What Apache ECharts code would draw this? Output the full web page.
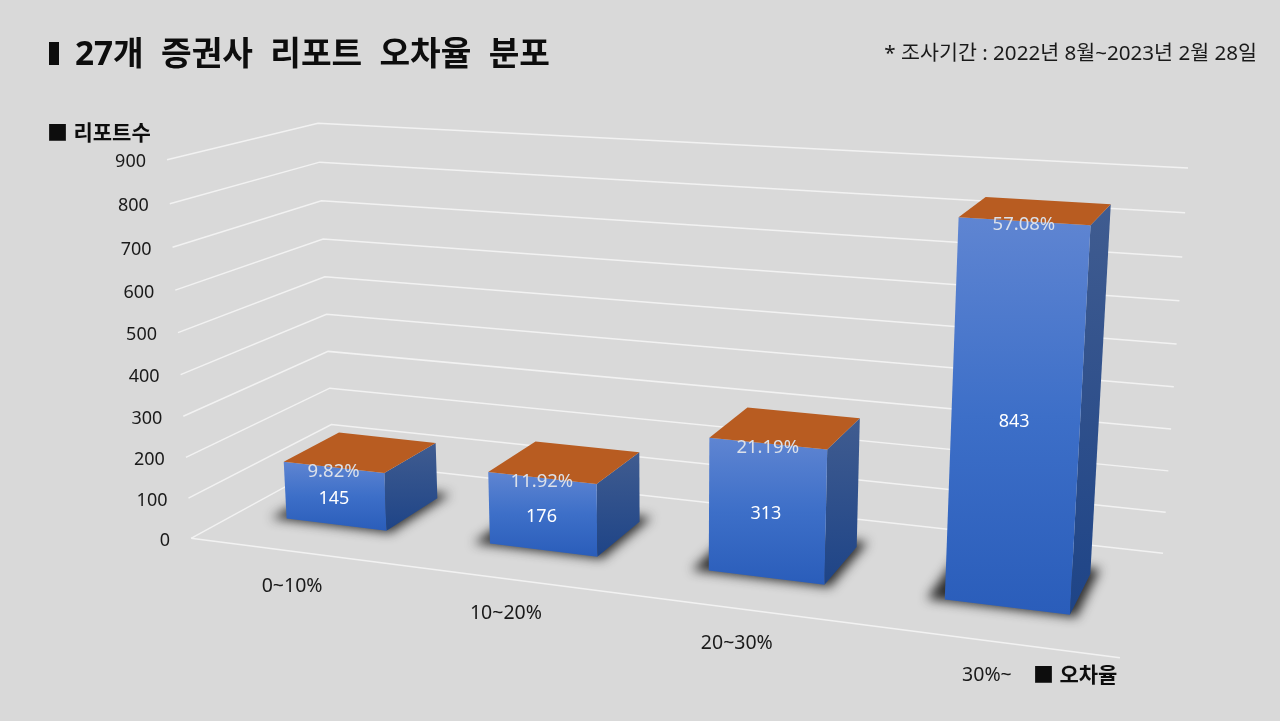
<!DOCTYPE html>
<html>
<head>
<meta charset="utf-8">
<style>html,body{margin:0;padding:0;background:#d9d9d9}#c{width:1280px;height:721px}</style>
<script src="https://cdn.jsdelivr.net/npm/echarts@6/dist/echarts.min.js"></script>
</head>
<body>
<div id="c"></div>
<script>
const categories = ['0~10%', '10~20%', '20~30%', '30%~'];
const reportCounts = [145, 176, 313, 843];
const errorShares = ['9.82%', '11.92%', '21.19%', '57.08%'];
const valueTicks = [0, 100, 200, 300, 400, 500, 600, 700, 800, 900];

const FONT = '"Noto Sans","Noto Sans CJK KR",sans-serif';
const W = 1280, H = 721;

// Camera of the fake-3D plot: unit box (u across, v into the page, z up) -> screen.
const calibration = [
  [0, 0, 0, 191, 538], [1, 0, 0, 1120, 658], [0, 1, 0, 333, 461], [1, 1, 0, 1163, 553],
  [0, 0, 1, 167, 160], [0, 1, 1, 318, 123], [1, 1, 1, 1188, 168]
];
function solveCamera(pts) {
  const n = 11, A = [...Array(n)].map(() => Array(n + 1).fill(0));
  const add = (r, b) => { for (let i = 0; i < n; i++) { for (let j = 0; j < n; j++) A[i][j] += r[i] * r[j]; A[i][n] += r[i] * b; } };
  pts.forEach(([X, Y, Z, x, y]) => {
    add([X, Y, Z, 1, 0, 0, 0, 0, -x * X, -x * Y, -x * Z], x);
    add([0, 0, 0, 0, X, Y, Z, 1, -y * X, -y * Y, -y * Z], y);
  });
  for (let i = 0; i < n; i++) {
    let m = i; for (let k = i + 1; k < n; k++) if (Math.abs(A[k][i]) > Math.abs(A[m][i])) m = k;
    [A[i], A[m]] = [A[m], A[i]];
    for (let k = 0; k < n; k++) if (k !== i) { const f = A[k][i] / A[i][i]; for (let j = i; j <= n; j++) A[k][j] -= f * A[i][j]; }
  }
  return A.map((r, i) => r[n] / r[i]);
}
const P = solveCamera(calibration);
function project(u, v, z) {
  const w = P[8] * u + P[9] * v + P[10] * z + 1;
  return [(P[0] * u + P[1] * v + P[2] * z + P[3]) / w, (P[4] * u + P[5] * v + P[6] * z + P[7]) / w];
}

const V_FRONT = 0.305, V_BACK = 0.705, SHIFT = 3000;
const grad = (stops) => new echarts.graphic.LinearGradient(0, 0, 0, 1, stops.map((c, i) => ({ offset: i / (stops.length - 1), color: c })));
const poly = (points, style, z2) => ({ type: 'polygon', shape: { points }, style, z2: z2 || 0, silent: true });
const txt = (x, y, text, size, fill, align, weight) => ({
  type: 'text', silent: true, z2: 10,
  style: { x, y, text, fill, font: (weight || 'normal') + ' ' + size + 'px ' + FONT, textAlign: align || 'center', textVerticalAlign: 'middle' }
});

function renderLevel(params, api) {
  const tick = api.value(0);
  const z = (H - api.coord([0, tick])[1]) / H;
  const a = project(0, 0, z), b = project(0, 1, z), c = project(1, 1, z);
  const children = [{
    type: 'polyline', silent: true,
    shape: { points: [a, b, c] },
    style: { stroke: '#f2f2f2', lineWidth: 1.5, fill: null }
  }, txt(a[0] - 21, a[1] + 2.5, String(tick), 18, '#1a1a1a', 'right')];
  if (tick === 0) children.push({
    type: 'polyline', silent: true,
    shape: { points: [a, project(1, 0, 0)] },
    style: { stroke: '#f2f2f2', lineWidth: 1.5, fill: null }
  });
  return { type: 'group', children };
}

function renderBar(params, api) {
  const i = params.dataIndex;
  const pt = api.coord([api.value(0), api.value(1)]);
  const band = api.size([1, 0])[0] / W;
  const uc = pt[0] / W, half = band / 4;
  const u0 = uc - half, u1 = uc + half;
  const zt = (H - pt[1]) / H;
  const ch = [];
  // Soft contact shadow: the shape sits off-canvas, only its blurred shadow lands on the floor.
  const su0 = u0 - 0.017, su1 = u1 + 0.007, sv0 = V_FRONT - 0.014, sv1 = V_BACK + 0.06;
  ch.push(poly([project(su0, sv0, 0), project(su1, sv0, 0), project(su1, sv1, 0), project(su0, sv1, 0)]
    .map(p => [p[0] - SHIFT, p[1]]),
    { fill: '#000', shadowColor: 'rgba(35,35,35,0.95)', shadowBlur: 11, shadowOffsetX: SHIFT }));
  const fb0 = project(u0, V_FRONT, 0), fb1 = project(u1, V_FRONT, 0), bb1 = project(u1, V_BACK, 0);
  const ft0 = project(u0, V_FRONT, zt), ft1 = project(u1, V_FRONT, zt), bt1 = project(u1, V_BACK, zt), bt0 = project(u0, V_BACK, zt);
  ch.push(poly([ft1, bt1, bb1, fb1], { fill: grad(['#405c90', '#1e4487']) }, 1));
  ch.push(poly([fb0, fb1, ft1, ft0], { fill: grad(['#5f85d2', '#3d6fc8', '#2a5dba']) }, 2));
  ch.push(poly([ft0, ft1, bt1, bt0], { fill: '#b85c21' }, 3));
  const mid = project(uc, V_FRONT, zt / 2);
  const top = project(uc, V_FRONT, zt);
  ch.push(txt(mid[0] - 1, mid[1] + 2.5, String(reportCounts[i]), 18, '#ffffff'));
  ch.push(txt(top[0], top[1] + 4, errorShares[i], 18.5, '#dbe0ea'));
  const foot = project(uc, 0, 0);
  ch.push(txt(foot[0], foot[1] + 35, categories[i], 19.5, '#1a1a1a'));
  return { type: 'group', children: ch };
}

const chart = echarts.init(document.getElementById('c'), null, { renderer: 'canvas' });
chart.setOption({
  animation: false,
  backgroundColor: '#d9d9d9',
  grid: { left: 0, top: 0, width: W, height: H, containLabel: false },
  xAxis: { type: 'category', data: categories, show: false },
  yAxis: { type: 'value', min: 0, max: 900, interval: 100, show: false },
  title: {
    text: '27개  증권사  리포트  오차율  분포', left: 70, top: 34,
    textStyle: { fontFamily: FONT, fontWeight: 'bold', fontSize: 33.3, color: '#0d0d0d' }
  },
  graphic: [
    { type: 'rect', left: 49, top: 42, shape: { width: 10, height: 23 }, style: { fill: '#0d0d0d' } },
    { type: 'text', right: 23, top: 44, style: { text: '* 조사기간 : 2022년 8월~2023년 2월 28일', fill: '#1a1a1a', font: 'normal 20.6px ' + FONT } },
    { type: 'text', left: 47, top: 124, style: { text: '■ 리포트수', fill: '#0d0d0d', font: 'bold 21px ' + FONT } },
    { type: 'text', left: 1033, top: 666, style: { text: '■ 오차율', fill: '#0d0d0d', font: 'bold 21px ' + FONT } }
  ],
  series: [
    { type: 'custom', z: 1, clip: false, silent: true, coordinateSystem: 'cartesian2d', renderItem: renderLevel,
      encode: { y: 0 }, data: valueTicks.map(v => [v]) },
    { type: 'custom', z: 2, clip: false, silent: true, coordinateSystem: 'cartesian2d', renderItem: renderBar,
      encode: { x: 0, y: 1 }, data: reportCounts.map((v, i) => [i, v]) }
  ]
});
</script>
</body>
</html>
